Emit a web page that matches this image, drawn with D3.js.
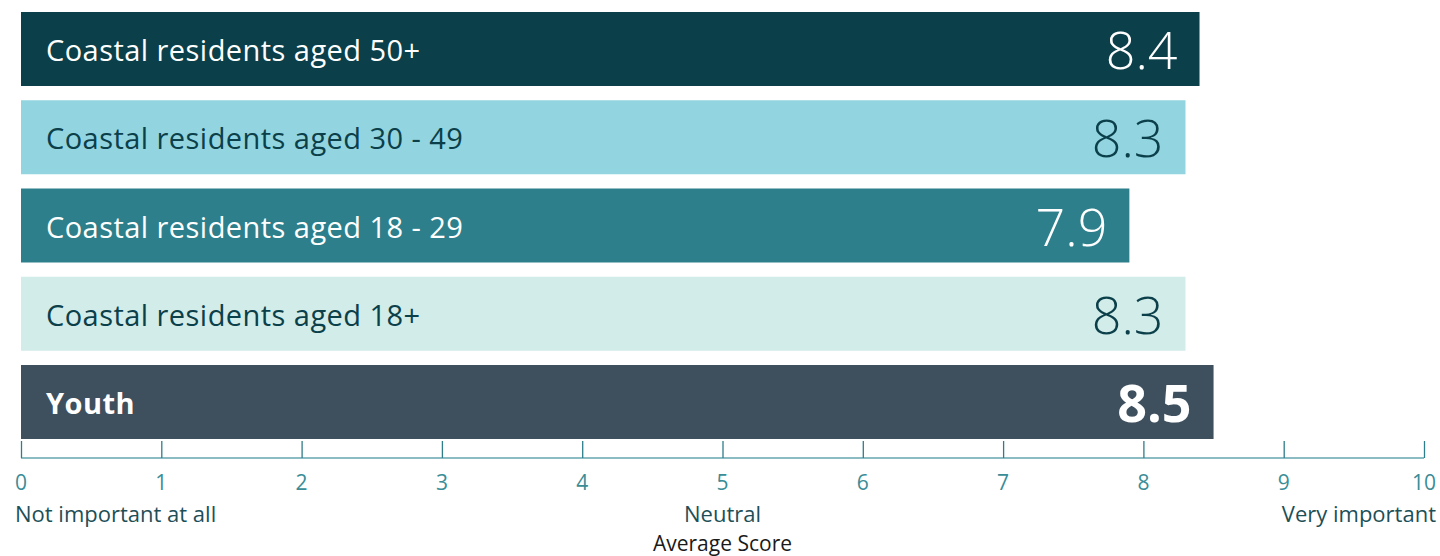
<!DOCTYPE html>
<html><head><meta charset="utf-8">
<script src="https://cdn.jsdelivr.net/npm/d3@7"></script>
<style>html,body{margin:0;padding:0;background:#fff;}svg{display:block;}</style>
</head><body>
<svg id="chart" width="1440" height="556"></svg>
<script>
const categories = ["Coastal residents aged 50+","Coastal residents aged 30 - 49","Coastal residents aged 18 - 29","Coastal residents aged 18+","Youth"];
const values = [8.4, 8.3, 7.9, 8.3, 8.5];
const barColors = ["#0b3f4a","#92d5e0","#2d7f8b","#d2ece9","#3e4f5e"];
const textColors = ["#ffffff","#0b3f4a","#ffffff","#0b3f4a","#ffffff"];
const boldFlags = [false,false,false,false,true];
const tickValues = [0,1,2,3,4,5,6,7,8,9,10];
const scaleLabels = [{v:0,t:"Not important at all",a:"start"},{v:5,t:"Neutral",a:"middle"},{v:10,t:"Very important",a:"end"}];
const axisTitle = "Average Score";

const svg = d3.select("#chart");
const font = "'Open Sans', sans-serif";
const x = d3.scaleLinear().domain([0,10]).range([21,1424]);
const y = d3.scaleBand().domain(categories).range([12, 439]).paddingInner(0.1615).paddingOuter(0).align(0);

const g = svg.append("g");
const rows = g.selectAll("g.row").data(categories).join("g").attr("class","row");
rows.append("rect")
  .attr("x", x(0)).attr("y", d=>y(d))
  .attr("width",(d,i)=>x(values[i])-x(0))
  .attr("height", y.bandwidth())
  .attr("fill",(d,i)=>barColors[i]);
rows.append("text")
  .attr("x", x(0)+25).attr("y", d=>y(d)+y.bandwidth()/2 + 12)
  .attr("font-family",font).attr("font-size",29)
  .attr("letter-spacing",0.45)
  .attr("font-weight",(d,i)=>boldFlags[i]?700:400)
  .attr("fill",(d,i)=>textColors[i])
  .text(d=>d);
rows.append("text")
  .attr("x",(d,i)=>x(values[i])-22).attr("y", d=>y(d)+y.bandwidth()/2 + 20)
  .attr("text-anchor","end")
  .attr("font-family",font).attr("font-size",52)
  .attr("font-weight",(d,i)=>boldFlags[i]?700:300)
  .attr("fill",(d,i)=>textColors[i])
  .text((d,i)=>values[i].toFixed(1));

const axisY = 458;
const axis = d3.axisTop(x).tickValues(tickValues).tickSize(17).tickFormat("");
const ag = svg.append("g").attr("transform",`translate(0,${axisY})`).call(axis);
ag.select(".domain").attr("stroke","#8bbcc4").attr("stroke-width",2).attr("d",`M${x(0)},0H${x(10)}`);
ag.selectAll(".tick line").attr("stroke","#2e7d8a").attr("stroke-width",1.3);
svg.append("g").selectAll("text").data(tickValues).join("text")
  .attr("x",d=>x(d)).attr("y",axisY+32).attr("text-anchor","middle")
  .attr("font-family",font).attr("font-size",21).attr("fill","#3a8d97")
  .text(d=>d);
svg.append("g").selectAll("text").data(scaleLabels).join("text")
  .attr("x",d=> d.a==="start"? x(d.v)-6 : d.a==="end"? x(d.v)+12 : x(d.v))
  .attr("y",axisY+64).attr("text-anchor",d=>d.a)
  .attr("font-family",font).attr("font-size",22).attr("fill","#1d4f57")
  .text(d=>d.t);
svg.append("text").attr("x",x(5)).attr("y",axisY+93).attr("text-anchor","middle")
  .attr("font-family",font).attr("font-size",21).attr("fill","#1a1a1a").text(axisTitle);
</script>
</body></html>
